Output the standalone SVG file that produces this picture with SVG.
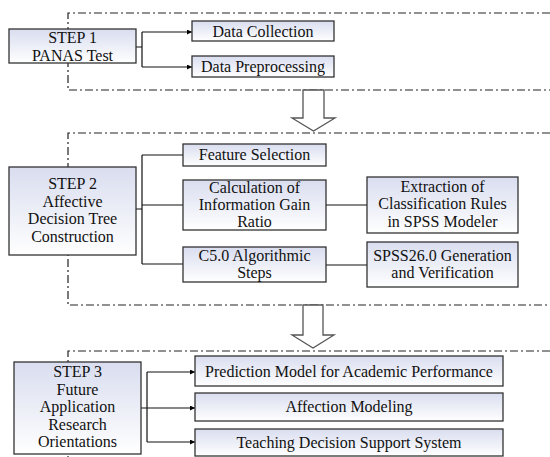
<svg xmlns="http://www.w3.org/2000/svg" width="550" height="457" viewBox="0 0 550 457">
<defs>
<linearGradient id="g" x1="0" y1="0" x2="0" y2="1">
<stop offset="0" stop-color="#d9ddef"/>
<stop offset="1" stop-color="#ffffff"/>
</linearGradient>
<marker id="ah" viewBox="0 0 6 6" refX="6" refY="3" markerWidth="5" markerHeight="5" markerUnits="userSpaceOnUse" orient="auto">
<path d="M0,0 L6,3 L0,6 z" fill="#000"/>
</marker>
<style>
.box{fill:url(#g);stroke:#333;stroke-width:1.3}
.frame{fill:none;stroke:#222;stroke-width:1.2;stroke-dasharray:8 3 2 3}
.con{fill:none;stroke:#111;stroke-width:1.2}
.arr{fill:#fff;stroke:#555;stroke-width:1.3}
text{font-family:"Liberation Serif","Times New Roman",serif;font-size:16px;fill:#111;text-anchor:middle}
</style>
</defs>
<rect width="550" height="457" fill="#fff"/>
<g id="frames">
<path class="frame" d="M550,13 H68 V90 H550"/>
<path class="frame" d="M550,133 H68 V305 H550"/>
<path class="frame" d="M550,351 H68 V457"/>
</g>
<g id="big-arrows">
<path class="arr" d="M303,90 V118 H292 L313.5,131 L335,118 H324 V90 Z"/>
<path class="arr" d="M303,305 V335 H292 L313,348 L334,335 H323 V305 Z"/>
</g>
<g id="connectors">
<path class="con" d="M136,47 H142 M142,32 V67"/>
<path class="con" d="M142,32 H192" marker-end="url(#ah)"/>
<path class="con" d="M142,67 H192" marker-end="url(#ah)"/>
<path class="con" d="M136,209 H142 M142,155 V264 M142,155 H183 M142,205 H183 M142,264 H183"/>
<path class="con" d="M326,205 H367 M326,265 H367"/>
<path class="con" d="M141,408 H147 M147,372 V442"/>
<path class="con" d="M147,372 H195" marker-end="url(#ah)"/>
<path class="con" d="M147,408 H195" marker-end="url(#ah)"/>
<path class="con" d="M147,442 H195" marker-end="url(#ah)"/>
</g>
<g id="step1">
<rect class="box" x="9" y="29" width="127" height="34"/>
<text x="72.5" y="43">STEP 1</text>
<text x="72.5" y="61">PANAS Test</text>
</g>
<g id="data-collection">
<rect class="box" x="192" y="21" width="142" height="20"/>
<text x="263" y="37">Data Collection</text>
</g>
<g id="data-preprocessing">
<rect class="box" x="192" y="56" width="142" height="21"/>
<text x="263" y="72">Data Preprocessing</text>
</g>
<g id="step2">
<rect class="box" x="9" y="167" width="127" height="88"/>
<text x="72.5" y="189">STEP 2</text>
<text x="72.5" y="207">Affective</text>
<text x="72.5" y="224">Decision Tree</text>
<text x="72.5" y="242">Construction</text>
</g>
<g id="feature-selection">
<rect class="box" x="183" y="144" width="143" height="22"/>
<text x="254.5" y="160">Feature Selection</text>
</g>
<g id="calc-gain">
<rect class="box" x="183" y="180" width="143" height="50"/>
<text x="254.5" y="193">Calculation of</text>
<text x="254.5" y="210">Information Gain</text>
<text x="254.5" y="227">Ratio</text>
</g>
<g id="c50">
<rect class="box" x="183" y="247" width="143" height="35"/>
<text x="254.5" y="261">C5.0 Algorithmic</text>
<text x="254.5" y="278">Steps</text>
</g>
<g id="extraction">
<rect class="box" x="367" y="177" width="151" height="56"/>
<text x="442.5" y="192">Extraction of</text>
<text x="442.5" y="209">Classification Rules</text>
<text x="442.5" y="227">in SPSS Modeler</text>
</g>
<g id="spss">
<rect class="box" x="367" y="242" width="151" height="45"/>
<text x="442.5" y="261">SPSS26.0 Generation</text>
<text x="442.5" y="278">and Verification</text>
</g>
<g id="step3">
<rect class="box" x="14" y="362" width="127" height="92"/>
<text x="77.5" y="377">STEP 3</text>
<text x="77.5" y="395">Future</text>
<text x="77.5" y="412">Application</text>
<text x="77.5" y="430">Research</text>
<text x="77.5" y="447">Orientations</text>
</g>
<g id="prediction">
<rect class="box" x="195" y="356" width="308" height="30"/>
<text x="349" y="377">Prediction Model for Academic Performance</text>
</g>
<g id="affection">
<rect class="box" x="195" y="393" width="308" height="28"/>
<text x="349" y="412">Affection Modeling</text>
</g>
<g id="teaching">
<rect class="box" x="195" y="429" width="308" height="27"/>
<text x="349" y="448">Teaching Decision Support System</text>
</g>
</svg>
